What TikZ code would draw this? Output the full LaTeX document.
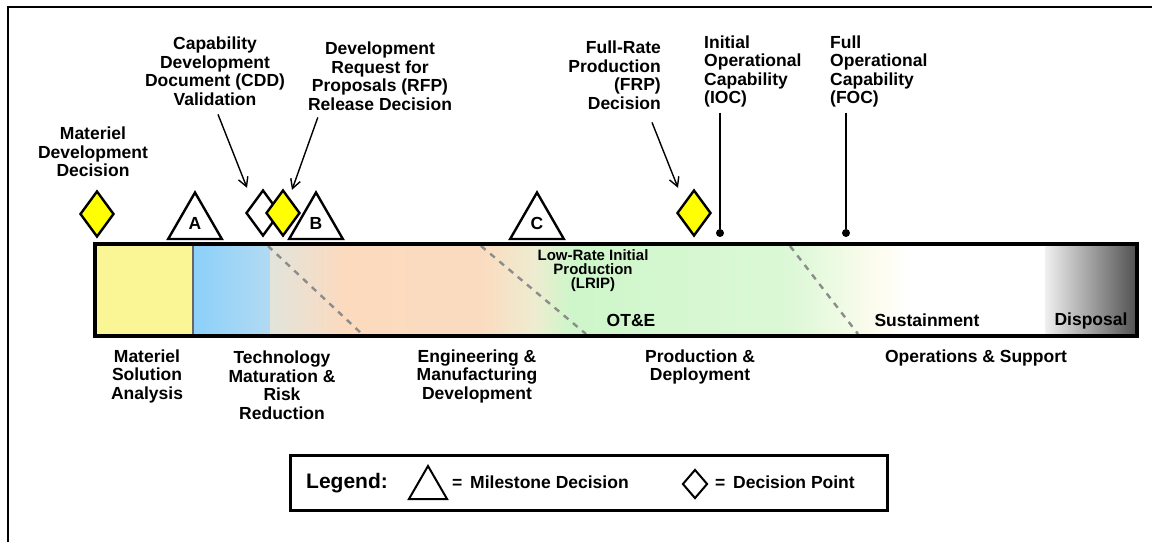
\documentclass[tikz,border=0pt]{standalone}
\usepackage{fontspec}
\setmainfont{Liberation Sans}
\usepackage{tikz}
\usetikzlibrary{shapes.geometric,%
                arrows.meta}

\definecolor{dpyellow}{RGB}{255,255,0}
\definecolor{msayellow}{RGB}{250,246,150}
\definecolor{tmblue}{RGB}{140,208,250}
\definecolor{tmblue2}{RGB}{178,218,242}
\definecolor{tmgray}{RGB}{226,228,220}
\definecolor{emdpeach}{RGB}{252,218,190}
\definecolor{emdbeige}{RGB}{238,236,208}
\definecolor{pdgreen}{RGB}{206,246,202}
\definecolor{pdgreen2}{RGB}{220,248,214}
\definecolor{ospale}{RGB}{252,252,238}
\definecolor{dispdark}{RGB}{80,80,80}

\begin{document}
\begin{tikzpicture}[x=1pt,y=-1pt]
  \tikzstyle{every node}=[font=\bfseries\fontsize{17.5}{18.5}\selectfont]
  \tikzstyle{Milestone}=[draw,fill=white,regular polygon,regular polygon sides=3,minimum size=62pt,inner sep=0pt,line width=2.4pt]
  \tikzstyle{DecPoint}=[draw,diamond,minimum width=34pt,minimum height=46pt,inner sep=0pt,line width=2.4pt]
  \tikzstyle{Label}=[align=center,inner sep=1pt]
  \tikzstyle{Pointer}=[line width=1.4pt,-{Straight Barb[length=9pt,width=10pt]}]
  \tikzstyle{PhaseLine}=[draw=black!45,line width=2.4pt,dash pattern=on 6pt off 6pt]
  \tikzstyle{CapDot}=[circle,fill=black,inner sep=0pt,minimum size=8pt]
  \useasboundingbox (0,0) rectangle (1152,542);
  \draw[line width=2.5pt] (8,542) -- (8,7) -- (1152,7);
  % life cycle bar
  \fill[msayellow] (95,244) rectangle (193,336);
  \fill[left color=tmblue,right color=tmblue2] (193,244) rectangle (270,336);
  \fill[left color=tmgray,right color=emdpeach] (270,244) rectangle (345,336);
  \fill[left color=emdpeach,right color=emdpeach!92!emdbeige] (345,244) rectangle (480,336);
  \fill[left color=emdpeach!92!emdbeige,right color=emdbeige] (480,244) rectangle (535,336);
  \fill[left color=emdbeige,right color=pdgreen] (535,244) rectangle (570,336);
  \fill[left color=pdgreen,right color=pdgreen2] (570,244) rectangle (790,336);
  \fill[left color=pdgreen2,right color=ospale] (790,244) rectangle (875,336);
  \fill[left color=ospale,right color=white] (875,244) rectangle (910,336);
  \fill[white] (910,244) rectangle (1045,336);
  \fill[left color=black!6,right color=dispdark] (1045,244) rectangle (1137,336);
  \draw[black!60,line width=2.5pt] (193,246) -- (193,334);
  \draw[PhaseLine] (268,246) -- (362,334);
  \draw[PhaseLine] (481,246) -- (586,334);
  \draw[PhaseLine] (790,246) -- (858,334);
  \draw[line width=3.5pt] (95,244) rectangle (1137,336);
  \node[Label,font=\bfseries\fontsize{15}{14}\selectfont] (lrip) at (593,271) {Low-Rate Initial\\Production\\(LRIP)};
  \node[Label] (ote) at (631,320) {OT\&E};
  \node[Label] (sust) at (927,320) {Sustainment};
  \node[Label] (disp) at (1091,321) {Disposal};
  % phases
  \node[Label] (msa) at (147,376) {Materiel\\Solution\\Analysis};
  \node[Label] (tmrr) at (282,385) {Technology\\Maturation \&\\Risk\\Reduction};
  \node[Label] (emd) at (477,376) {Engineering \&\\Manufacturing\\Development};
  \node[Label] (pd) at (700,367) {Production \&\\Deployment};
  \node[Label] (os) at (976,358) {Operations \& Support};
  % milestones and decision points
  \node[DecPoint,fill=dpyellow] (mdd) at (97,214) {};
  \node[Milestone] (msA) at (195,223.5) {A};
  \node[DecPoint,fill=white] (cddpt) at (263,213) {};
  \node[DecPoint,fill=dpyellow] (rfppt) at (283,213) {};
  \node[Milestone] (msB) at (316,223.5) {B};
  \node[Milestone] (msC) at (537,223.5) {C};
  \node[DecPoint,fill=dpyellow] (frppt) at (694,213) {};
  \node[CapDot] (iocdot) at (720,233) {};
  \node[CapDot] (focdot) at (846,233) {};
  \node[Label] (mddtxt) at (93,152) {Materiel\\Development\\Decision};
  \node[Label] (cddtxt) at (215,71) {Capability\\Development\\Document (CDD)\\Validation};
  \node[Label] (rfptxt) at (380,76) {Development\\Request for\\Proposals (RFP)\\Release Decision};
  \node[Label,align=right,anchor=east] (frptxt) at (662,75) {Full-Rate\\Production\\(FRP)\\Decision};
  \node[Label,align=left,anchor=west] (ioctxt) at (703,71.5) {Initial\\Operational\\Capability\\(IOC)};
  \node[Label,align=left,anchor=west] (foctxt) at (829,71.5) {Full\\Operational\\Capability\\(FOC)};
  \draw[Pointer] ([shift={(3,8)}]cddtxt.south) -- ([shift={(-16,-1)}]cddpt.north);
  \draw[Pointer] ([shift={(11,6)}]rfptxt.south west) -- ([shift={(9,1)}]rfppt.north);
  \draw[Pointer] ([shift={(-10,12)}]frptxt.south east) -- ([shift={(-16,-1)}]frppt.north);
  \draw[line width=1.4pt] ([yshift=-4pt]ioctxt.south -| iocdot) -- (iocdot);
  \draw[line width=1.4pt] ([yshift=-4pt]foctxt.south -| focdot) -- (focdot);
  % legend
  \draw[line width=3pt] (290,455) rectangle (887,510);
  \node[anchor=west,inner sep=0pt,font=\bfseries\fontsize{21}{24}\selectfont] (legtxt) at (306,483) {Legend:};
  \node[Milestone,minimum size=44pt,line width=2pt] (legms) at (428,488) {};
  \node[anchor=west,inner sep=0pt] (legmstxt) at (452,482) {=\, Milestone Decision};
  \node[DecPoint,minimum width=25pt,minimum height=29pt,line width=2pt] (legdp) at (695,484) {};
  \node[anchor=west,inner sep=0pt] (legdptxt) at (715,482) {=\, Decision Point};
\end{tikzpicture}
\end{document}
